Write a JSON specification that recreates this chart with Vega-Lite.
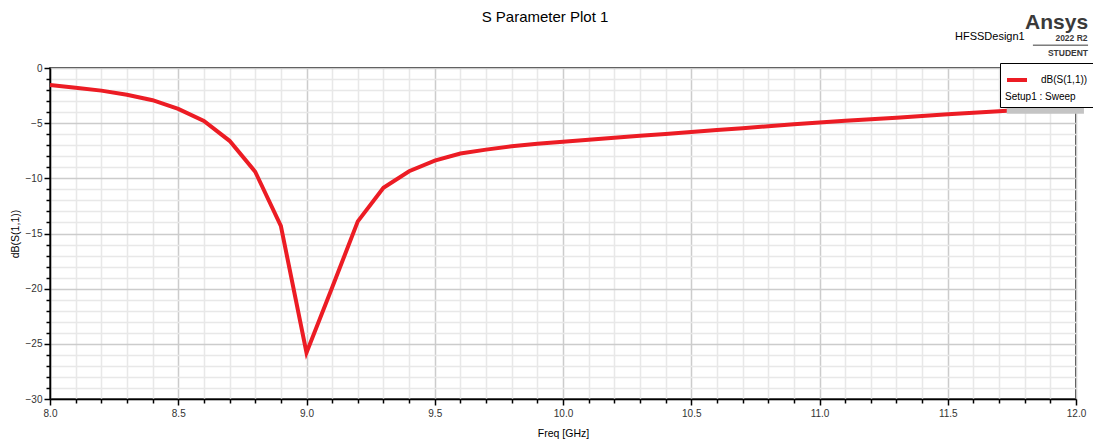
{
  "$schema": "https://vega.github.io/schema/vega-lite/v6.json",
  "width": 1026,
  "height": 331,
  "autosize": "none",
  "padding": {"left": 50, "top": 68, "right": 17, "bottom": 47},
  "background": "white",
  "config": {
    "view": {"stroke": "black", "strokeWidth": 1.5},
    "font": "Liberation Sans",
    "axis": {"labelFont": "Liberation Sans", "titleFont": "Liberation Sans", "labelFontSize": 10, "labelColor": "#333333", "titleFontSize": 10.5, "titleFontWeight": "normal", "titleColor": "black", "tickColor": "black", "domainColor": "black", "domainWidth": 1.5, "tickWidth": 1.5}
  },
  "title": {"text": "S Parameter Plot 1", "fontSize": 15, "fontWeight": "normal", "font": "Liberation Sans", "anchor": "middle", "dx": -18, "offset": 0, "dy": 13, "color": "black"},
  "data": {"values": [
    {"freq": 8.0, "db": -1.55}, {"freq": 8.1, "db": -1.78}, {"freq": 8.2, "db": -2.05}, {"freq": 8.3, "db": -2.42}, {"freq": 8.4, "db": -2.92},
    {"freq": 8.5, "db": -3.7}, {"freq": 8.6, "db": -4.8}, {"freq": 8.7, "db": -6.6}, {"freq": 8.8, "db": -9.4}, {"freq": 8.9, "db": -14.3},
    {"freq": 9.0, "db": -25.8}, {"freq": 9.1, "db": -19.9}, {"freq": 9.2, "db": -13.9}, {"freq": 9.3, "db": -10.85}, {"freq": 9.4, "db": -9.36},
    {"freq": 9.5, "db": -8.4}, {"freq": 9.6, "db": -7.75}, {"freq": 9.7, "db": -7.4}, {"freq": 9.8, "db": -7.1}, {"freq": 9.9, "db": -6.87},
    {"freq": 10.0, "db": -6.68}, {"freq": 10.1, "db": -6.5}, {"freq": 10.2, "db": -6.33}, {"freq": 10.3, "db": -6.15}, {"freq": 10.4, "db": -5.98},
    {"freq": 10.5, "db": -5.8}, {"freq": 10.6, "db": -5.63}, {"freq": 10.7, "db": -5.45}, {"freq": 10.8, "db": -5.28}, {"freq": 10.9, "db": -5.1},
    {"freq": 11.0, "db": -4.93}, {"freq": 11.1, "db": -4.78}, {"freq": 11.2, "db": -4.64}, {"freq": 11.3, "db": -4.5}, {"freq": 11.4, "db": -4.35},
    {"freq": 11.5, "db": -4.2}, {"freq": 11.6, "db": -4.06}, {"freq": 11.7, "db": -3.92}, {"freq": 11.8, "db": -3.78}, {"freq": 11.9, "db": -3.64},
    {"freq": 12.0, "db": -3.5}
  ]},
  "layer": [
    {
      "mark": {"type": "line", "strokeOpacity": 0},
      "encoding": {
        "x": {"field": "freq", "type": "quantitative", "scale": {"domain": [8, 12], "nice": false, "zero": false},
          "axis": {"orient": "bottom", "values": [8.1,8.2,8.3,8.4,8.6,8.7,8.8,8.9,9.1,9.2,9.3,9.4,9.6,9.7,9.8,9.9,10.1,10.2,10.3,10.4,10.6,10.7,10.8,10.9,11.1,11.2,11.3,11.4,11.6,11.7,11.8,11.9],
            "labels": false, "tickSize": 4, "domain": false, "grid": true, "gridColor": "#e8e8e8", "gridWidth": 1.5, "title": null}},
        "y": {"field": "db", "type": "quantitative", "scale": {"domain": [-30, 0], "nice": false, "zero": false},
          "axis": {"orient": "left", "values": [-1,-2,-3,-4,-6,-7,-8,-9,-11,-12,-13,-14,-16,-17,-18,-19,-21,-22,-23,-24,-26,-27,-28,-29],
            "labels": false, "tickSize": 4, "domain": false, "grid": true, "gridColor": "#e8e8e8", "gridWidth": 1.5, "title": null}}
      }
    },
    {
      "mark": {"type": "line", "strokeWidth": 4},
      "encoding": {
        "x": {"field": "freq", "type": "quantitative", "scale": {"domain": [8, 12], "nice": false, "zero": false},
          "axis": {"orient": "bottom", "values": [8, 8.5, 9, 9.5, 10, 10.5, 11, 11.5, 12], "format": ".1f", "tickSize": 6, "labelPadding": 3, "grid": true, "gridColor": "#cccccc", "gridWidth": 1.5, "title": "Freq [GHz]", "titlePadding": 10, "labelFlush": false}},
        "y": {"field": "db", "type": "quantitative", "scale": {"domain": [-30, 0], "nice": false, "zero": false},
          "axis": {"orient": "left", "values": [0, -5, -10, -15, -20, -25, -30], "tickSize": 6, "labelPadding": 2, "grid": true, "gridColor": "#cccccc", "gridWidth": 1.5, "title": "dB(S(1,1))", "titlePadding": 5}},
        "color": {"datum": "dB(S(1,1))", "scale": {"range": ["#ec1c24"]},
          "legend": {"orient": "none", "legendX": 950, "legendY": -5, "title": "Setup1 : Sweep", "titleOrient": "bottom", "titleFontWeight": "normal", "titleFontSize": 10, "titleColor": "black", "titleFont": "Liberation Sans", "titlePadding": 4,
            "symbolType": "stroke", "symbolStrokeWidth": 4, "symbolSize": 400, "labelFontSize": 10, "labelColor": "black", "labelFont": "Liberation Sans", "labelOffset": 12,
            "strokeColor": "black", "fillColor": "white", "padding": 5}}
      }
    },
    {
      "data": {"values": [{}]},
      "mark": {"type": "rect", "color": "#c4c4c4"},
      "encoding": {
        "x": {"datum": 11.73, "type": "quantitative", "scale": {"domain": [8, 12], "nice": false, "zero": false}, "axis": null},
        "x2": {"datum": 12.031},
        "y": {"datum": 0.1, "type": "quantitative", "scale": {"domain": [-30, 0], "nice": false, "zero": false}, "axis": null},
        "y2": {"datum": -4.15}
      }
    },
    {
      "data": {"values": [{"t": "HFSSDesign1", "x": 11.80, "y": 2.58}]},
      "mark": {"type": "text", "align": "right", "baseline": "alphabetic", "fontSize": 11, "color": "black"},
      "encoding": {
        "x": {"field": "x", "type": "quantitative", "scale": {"domain": [8, 12], "nice": false, "zero": false}, "axis": null},
        "y": {"field": "y", "type": "quantitative", "scale": {"domain": [-30, 0], "nice": false, "zero": false}, "axis": null},
        "text": {"field": "t"}
      }
    },
    {
      "data": {"values": [{"t": "Ansys", "x": 12.047, "y": 3.49}]},
      "mark": {"type": "text", "align": "right", "baseline": "alphabetic", "fontSize": 21, "fontWeight": "bold", "color": "#3a3a3a"},
      "encoding": {
        "x": {"field": "x", "type": "quantitative", "scale": {"domain": [8, 12], "nice": false, "zero": false}, "axis": null},
        "y": {"field": "y", "type": "quantitative", "scale": {"domain": [-30, 0], "nice": false, "zero": false}, "axis": null},
        "text": {"field": "t"}
      }
    },
    {
      "data": {"values": [{"t": "2022 R2", "x": 12.045, "y": 2.45}, {"t": "STUDENT", "x": 12.047, "y": 1.1}]},
      "mark": {"type": "text", "align": "right", "baseline": "alphabetic", "fontSize": 8.5, "fontWeight": "bold", "color": "#3a3a3a"},
      "encoding": {
        "x": {"field": "x", "type": "quantitative", "scale": {"domain": [8, 12], "nice": false, "zero": false}, "axis": null},
        "y": {"field": "y", "type": "quantitative", "scale": {"domain": [-30, 0], "nice": false, "zero": false}, "axis": null},
        "text": {"field": "t"}
      }
    },
    {
      "data": {"values": [{"x": 11.832, "x2": 12.047, "y": 2.07}]},
      "mark": {"type": "rule", "color": "#3a3a3a", "strokeWidth": 1},
      "encoding": {
        "x": {"field": "x", "type": "quantitative", "scale": {"domain": [8, 12], "nice": false, "zero": false}, "axis": null},
        "x2": {"field": "x2"},
        "y": {"field": "y", "type": "quantitative", "scale": {"domain": [-30, 0], "nice": false, "zero": false}, "axis": null}
      }
    }
  ],
  "resolve": {"axis": {"x": "independent", "y": "independent"}}
}
